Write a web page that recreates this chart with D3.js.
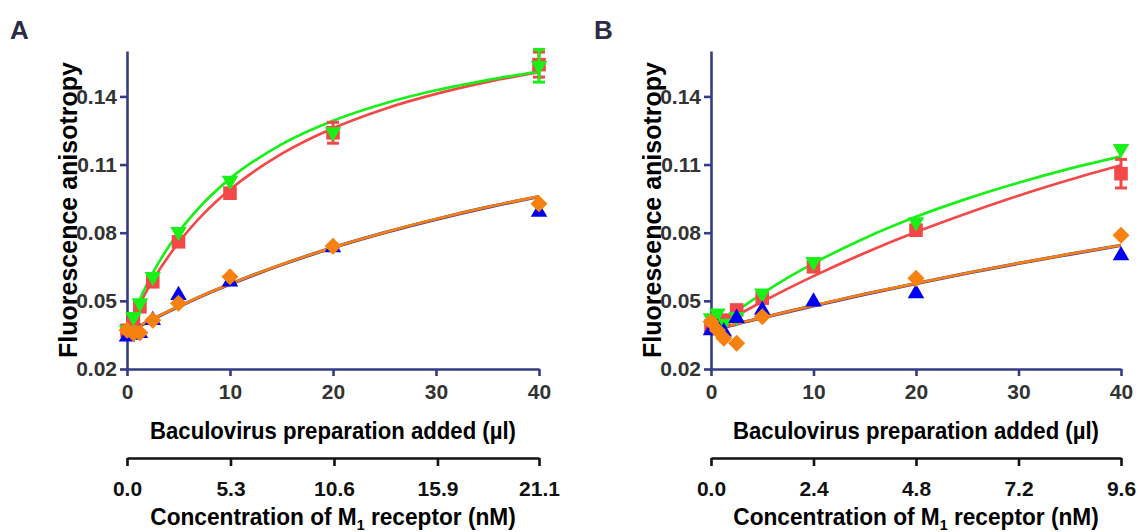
<!DOCTYPE html>
<html>
<head>
<meta charset="utf-8">
<script src="https://cdn.jsdelivr.net/npm/d3@7"></script>
<style>
  body { margin: 0; background: #fff; }
  text { font-family: "Liberation Sans", Arial, Helvetica, sans-serif; font-weight: bold; }
</style>
</head>
<body>
<script>
// ---------- data ----------
const xValues = [0, 0.625, 1.25, 2.5, 5, 10, 20, 40];
const curveX = [0, 0.625, 1.25, 2.5, 5, 7.5, 10, 15, 20, 25, 30, 35, 40];
const xTicks = [0, 10, 20, 30, 40];
const yTicks = [0.02, 0.05, 0.08, 0.11, 0.14];
const concTicksA = [0.0, 5.3, 10.6, 15.9, 21.1];
const concTicksB = [0.0, 2.4, 4.8, 7.2, 9.6];

// Panel A points
const redA    = [0.037, 0.042, 0.0474, 0.0584, 0.076, 0.0974, 0.124, 0.154];
const greenA  = [0.0371, 0.043, 0.049, 0.0606, 0.0804, 0.103, 0.1243, 0.1535];
const blueA   = [0.0342, 0.035, 0.0358, 0.0415, 0.0525, 0.0584, 0.0735, 0.0891];
const orangeA = [0.0371, 0.0357, 0.036, 0.0415, 0.0489, 0.0606, 0.074, 0.0928];
const redErrA   = [0, 0, 0, 0, 0, 0, 0.0046, 0.0055];
const greenErrA = [0, 0, 0, 0, 0, 0, 0, 0.0072];
// Panel A fitted curves
const redFitA    = [0.037, 0.0432, 0.0488, 0.059, 0.0756, 0.0886, 0.099, 0.1147, 0.126, 0.1345, 0.1411, 0.1464, 0.1507];
const greenFitA  = [0.037, 0.0442, 0.0507, 0.0622, 0.0801, 0.0934, 0.1038, 0.1189, 0.1293, 0.1369, 0.1427, 0.1472, 0.151];
const blueFitA   = [0.0359, 0.0374, 0.039, 0.0419, 0.0474, 0.0526, 0.0573, 0.0659, 0.0734, 0.08, 0.0859, 0.0912, 0.0959];
const orangeFitA = [0.036, 0.0375, 0.0391, 0.042, 0.0475, 0.0527, 0.0574, 0.066, 0.0735, 0.0801, 0.086, 0.0913, 0.096];

// Panel B points
const redB    = [0.039, 0.040, 0.0415, 0.046, 0.0512, 0.065, 0.0811, 0.106];
const greenB  = [0.0425, 0.0445, 0.040, 0.043, 0.0533, 0.0672, 0.0847, 0.117];
const blueB   = [0.037, 0.038, 0.0364, 0.0424, 0.046, 0.0496, 0.0533, 0.070];
const orangeB = [0.0408, 0.0371, 0.0335, 0.0313, 0.043, null, 0.0599, 0.0789];
const redErrB   = [0, 0, 0, 0, 0, 0, 0, 0.0063];
const greenErrB = [0, 0, 0, 0, 0, 0, 0, 0];
// Panel B fitted curves
const redFitB    = [0.037, 0.0387, 0.0403, 0.0435, 0.0496, 0.0554, 0.0609, 0.0711, 0.0803, 0.0886, 0.0963, 0.1033, 0.1097];
const greenFitB  = [0.037, 0.0392, 0.0414, 0.0455, 0.0532, 0.0602, 0.0665, 0.0776, 0.087, 0.095, 0.102, 0.1082, 0.1136];
const blueFitB   = [0.0369, 0.0376, 0.0383, 0.0398, 0.0425, 0.0452, 0.0478, 0.0529, 0.0576, 0.0622, 0.0665, 0.0705, 0.0744];
const orangeFitB = [0.037, 0.0377, 0.0384, 0.0399, 0.0426, 0.0453, 0.0479, 0.053, 0.0577, 0.0623, 0.0666, 0.0706, 0.0745];

// ---------- styles ----------
const COL = { red: "#f34848", green: "#18f018", blue: "#0000f0", orange: "#f7810f" };
const AXIS_COL = "#353b85";

const svg = d3.select("body").append("svg")
  .attr("width", 1138).attr("height", 532);

function drawPanel(p) {
  const x = d3.scaleLinear().domain([0, 40]).range([p.x0, p.x1]);
  const y = d3.scaleLinear().domain([0.02, 0.16]).range([369, 51]);
  const x2 = d3.scaleLinear().domain([0, p.concTicks[p.concTicks.length - 1]]).range([p.x0, p.x1]);
  const g = svg.append("g");

  // panel letter
  g.append("text").attr("x", p.x0 - 117).attr("y", 39)
    .attr("font-size", 26).attr("fill", "#2c2c46").text(p.letter);

  // y axis
  const ya = g.append("g").attr("transform", `translate(${p.x0},0)`)
    .call(d3.axisLeft(y).tickValues(yTicks).tickSize(7).tickSizeOuter(0).tickPadding(3).tickFormat(d3.format(".2f")));
  ya.selectAll("path,line").attr("stroke", AXIS_COL).attr("stroke-width", 2.6);
  ya.selectAll("text").attr("font-size", 21).attr("fill", "#333").attr("font-family", null);

  // x axis
  const xa = g.append("g").attr("transform", "translate(0,369)")
    .call(d3.axisBottom(x).tickValues(xTicks).tickSize(7).tickSizeOuter(0).tickPadding(8));
  xa.selectAll("path,line").attr("stroke", AXIS_COL).attr("stroke-width", 2.6);
  xa.selectAll("text").attr("font-size", 21).attr("fill", "#333").attr("font-family", null);

  // secondary axis
  const ca = g.append("g").attr("transform", "translate(0,458)")
    .call(d3.axisBottom(x2).tickValues(p.concTicks).tickSize(8).tickSizeOuter(0).tickPadding(15).tickFormat(d3.format(".1f")));
  ca.selectAll("path,line").attr("stroke", "#111").attr("stroke-width", 2.6);
  ca.selectAll("text").attr("font-size", 21).attr("fill", "#111").attr("font-family", null);

  const cx = (p.x0 + p.x1) / 2;
  g.append("text").attr("x", cx).attr("y", 439).attr("text-anchor", "middle")
    .attr("font-size", 24).attr("fill", "#000")
    .attr("textLength", 366).attr("lengthAdjust", "spacingAndGlyphs")
    .text("Baculovirus preparation added (µl)");

  const ct = g.append("g").attr("transform", `translate(${cx},525) scale(0.945,1)`)
    .append("text").attr("x", 0).attr("y", 0).attr("text-anchor", "middle")
    .attr("font-size", 24).attr("fill", "#000");
  ct.append("tspan").text("Concentration of M");
  ct.append("tspan").attr("font-size", 15).attr("dy", 5).text("1");
  ct.append("tspan").attr("dy", -5).text(" receptor (nM)");

  g.append("text").attr("transform", `translate(${p.x0 - 59},210) rotate(-90)`)
    .attr("text-anchor", "middle").attr("dy", "0.36em")
    .attr("font-size", 25).attr("fill", "#000")
    .text("Fluorescence anisotropy");

  // fitted curves
  const line = d3.line().x(d => x(d[0])).y(d => y(d[1])).curve(d3.curveMonotoneX);
  const fits = [
    { v: p.blueFit, c: "#4a3a9a", w: 3.4 },
    { v: p.orangeFit, c: COL.orange, w: 2.6 },
    { v: p.redFit, c: COL.red, w: 2.7 },
    { v: p.greenFit, c: COL.green, w: 2.7 }
  ];
  fits.forEach(f => {
    g.append("path").datum(curveX.map((xx, i) => [xx, f.v[i]]))
      .attr("d", line).attr("fill", "none").attr("stroke", f.c).attr("stroke-width", f.w);
  });

  // points
  const sq = d3.symbol().type(d3.symbolSquare).size(185)();
  const tri = d3.symbol().type(d3.symbolTriangle).size(118)();
  const dia = d3.symbol().type(d3.symbolSquare).size(145)();
  const series = [
    { v: p.red, e: p.redErr, c: COL.red, path: sq, rot: 0 },
    { v: p.green, e: p.greenErr, c: COL.green, path: tri, rot: 180 },
    { v: p.blue, e: null, c: COL.blue, path: tri, rot: 0 },
    { v: p.orange, e: null, c: COL.orange, path: dia, rot: 45 }
  ];
  series.forEach(s => {
    const pts = xValues.map((xx, i) => ({ x: xx, v: s.v[i], e: s.e ? s.e[i] : 0 }))
      .filter(d => d.v !== null);
    const eb = pts.filter(d => d.e > 0);
    const ebG = g.append("g").attr("stroke", s.c).attr("stroke-width", 3);
    ebG.selectAll("line.v").data(eb).join("line")
      .attr("x1", d => x(d.x)).attr("x2", d => x(d.x))
      .attr("y1", d => y(d.v - d.e)).attr("y2", d => y(d.v + d.e));
    ebG.selectAll("line.t").data(eb).join("line")
      .attr("x1", d => x(d.x) - 6).attr("x2", d => x(d.x) + 6)
      .attr("y1", d => y(d.v + d.e)).attr("y2", d => y(d.v + d.e));
    ebG.selectAll("line.b").data(eb).join("line")
      .attr("x1", d => x(d.x) - 6).attr("x2", d => x(d.x) + 6)
      .attr("y1", d => y(d.v - d.e)).attr("y2", d => y(d.v - d.e));
    g.append("g").selectAll("path").data(pts).join("path")
      .attr("d", s.path).attr("fill", s.c)
      .attr("transform", d => `translate(${x(d.x)},${y(d.v)}) rotate(${s.rot})`);
  });
}

drawPanel({
  letter: "A", x0: 127, x1: 539, concTicks: concTicksA,
  red: redA, green: greenA, blue: blueA, orange: orangeA,
  redErr: redErrA, greenErr: greenErrA,
  redFit: redFitA, greenFit: greenFitA, blueFit: blueFitA, orangeFit: orangeFitA
});
drawPanel({
  letter: "B", x0: 711, x1: 1121, concTicks: concTicksB,
  red: redB, green: greenB, blue: blueB, orange: orangeB,
  redErr: redErrB, greenErr: greenErrB,
  redFit: redFitB, greenFit: greenFitB, blueFit: blueFitB, orangeFit: orangeFitB
});
</script>
</body>
</html>
